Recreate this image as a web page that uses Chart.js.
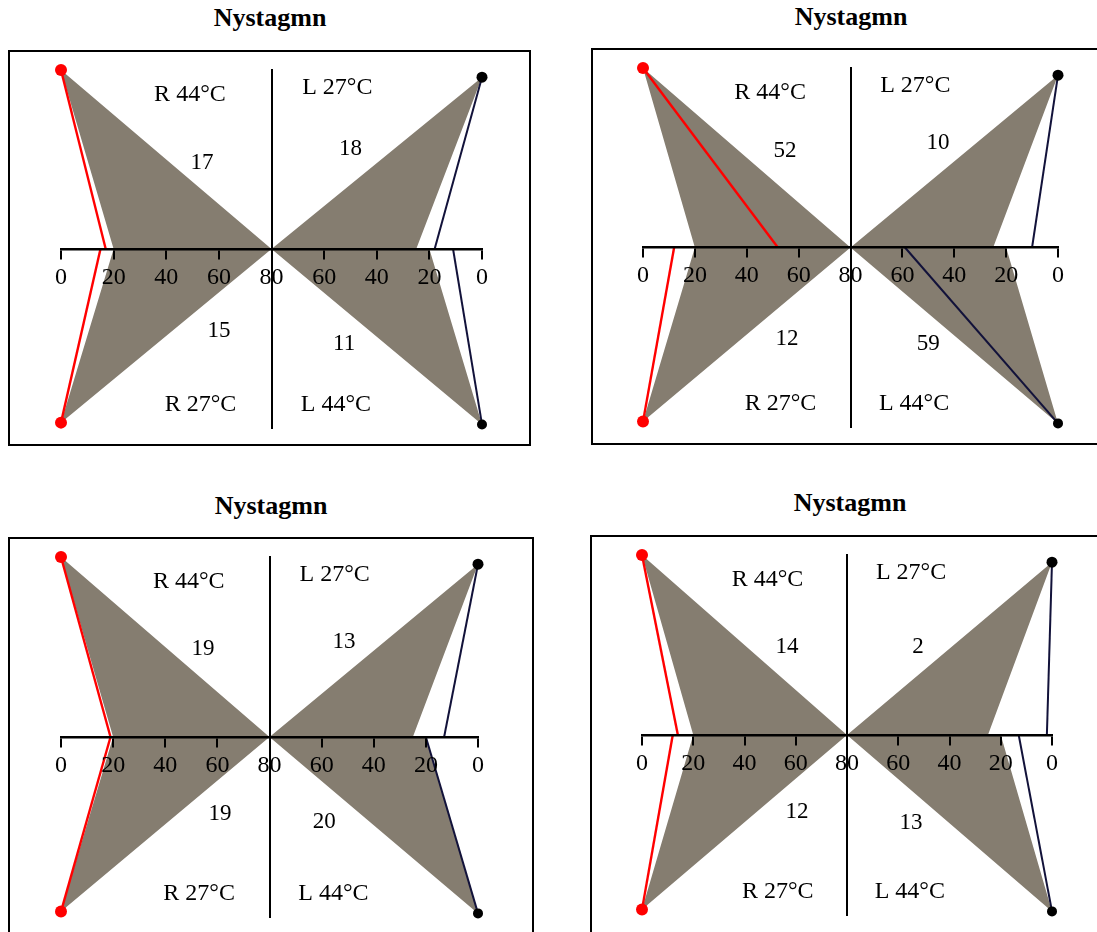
<!DOCTYPE html>
<html>
<head>
<meta charset="utf-8">
<script src="https://cdn.jsdelivr.net/npm/chart.js@4.4.0/dist/chart.umd.min.js"></script>
<style>
  html, body { margin: 0; padding: 0; }
  body { width: 1097px; height: 932px; background: #fff; position: relative; overflow: hidden;
         font-family: 'Liberation Serif', 'Times New Roman', serif; }
  .title { position: absolute; font-weight: bold; font-size: 26px; line-height: 26px;
           transform: translateX(-50%); white-space: nowrap; color: #000; }
  .box { position: absolute; border: 2px solid #000; box-sizing: border-box; }
  canvas { position: absolute; }
</style>
</head>
<body>
<script>
// Butterfly charts of caloric nystagmus (slow-phase velocity, deg/s)
const panelTitles   = ['Nystagmn', 'Nystagmn', 'Nystagmn', 'Nystagmn'];
const conditions    = ['R 44°C', 'L 27°C', 'R 27°C', 'L 44°C'];
const nystagmusR44  = [17, 52, 19, 14];
const nystagmusL27  = [18, 10, 13, 2];
const nystagmusR27  = [15, 12, 19, 12];
const nystagmusL44  = [11, 59, 20, 13];
// limits of the normal (shaded) range on the axis: R44, L27, R27, L44
const normalLimits  = [20, 25, 20, 20];
const tickLabels    = ['0', '20', '40', '60', '80', '60', '40', '20', '0'];
const axisMax = 80;   // each half of the axis runs 0..80, mirrored about the centre

// page layout of the four panels
const panelLayout = [
  { titleX: 270, titleY: 5,   box: [8, 50, 523, 396],   area: [61, 482, 70, 428] },
  { titleX: 851, titleY: 4,   box: [591, 48, 515, 397], area: [643, 1058, 68, 427] },
  { titleX: 271, titleY: 493, box: [8, 537, 526, 410],  area: [61, 478, 557, 917] },
  { titleX: 850, titleY: 490, box: [590, 535, 516, 410], area: [642, 1052, 555, 915] }
];
// apex heights of the four wings (top-left, top-right, bottom-left, bottom-right)
const apex = { rt: 1, lt: 0.96, rb: -0.97, lb: -0.98 };
// text anchor points in axis units
const conditionPos = [[49, 0.86], [105, 0.9], [53, -0.87], [104.5, -0.87]];
const valuePos = [
  [[53.6, 0.48], [110, 0.56], [60, -0.46], [107.6, -0.53]],
  [[54.7, 0.54], [113.7, 0.58], [55.5, -0.51], [110, -0.54]],
  [[54.5, 0.49], [108.6, 0.53], [61, -0.43], [101, -0.47]],
  [[56.6, 0.49], [107.7, 0.49], [60.5, -0.43], [105, -0.49]]
];

const SERIF = "'Liberation Serif', 'Times New Roman', serif";
const SHADE = '#857d70';
const RED = '#ff0000';
const NAVY = '#12123a';
const mirror = v => 2 * axisMax - v;

function textPlugin(p) {
  return {
    id: 'quadrantText' + p,
    afterDraw(chart) {
      const { ctx, scales: { x, y } } = chart;
      ctx.save();
      ctx.fillStyle = '#000';
      ctx.textAlign = 'center';
      ctx.textBaseline = 'middle';
      ctx.font = '24px ' + SERIF;
      conditions.forEach((c, i) => {
        ctx.fillText(c, x.getPixelForValue(conditionPos[i][0]), y.getPixelForValue(conditionPos[i][1]));
      });
      ctx.font = '23px ' + SERIF;
      const vals = [nystagmusR44[p], nystagmusL27[p], nystagmusR27[p], nystagmusL44[p]];
      vals.forEach((v, i) => {
        const pos = valuePos[p][i];
        ctx.fillText(String(v), x.getPixelForValue(pos[0]), y.getPixelForValue(pos[1]));
      });
      ctx.restore();
    }
  };
}

panelLayout.forEach((L, p) => {
  const t = document.createElement('div');
  t.className = 'title';
  t.textContent = panelTitles[p];
  t.style.left = L.titleX + 'px';
  t.style.top = L.titleY + 'px';
  document.body.appendChild(t);

  const [bx, by, bw, bh] = L.box;
  const box = document.createElement('div');
  box.className = 'box';
  Object.assign(box.style, { left: bx + 'px', top: by + 'px', width: bw + 'px', height: bh + 'px' });
  document.body.appendChild(box);

  const cv = document.createElement('canvas');
  cv.width = bw; cv.height = bh;
  Object.assign(cv.style, { left: bx + 'px', top: by + 'px', width: bw + 'px', height: bh + 'px' });
  document.body.appendChild(cv);

  const [al, ar, at, ab] = L.area;
  const lineDs = (data, color, width, dot) => ({
    data, showLine: true, borderColor: color, borderWidth: width, tension: 0,
    pointRadius: [dot, 0], pointBackgroundColor: color === RED ? RED : '#000',
    pointBorderWidth: 0, pointHoverRadius: [dot, 0], fill: false, clip: false, order: 1
  });
  const wing = data => ({
    data, showLine: true, fill: 'shape', backgroundColor: SHADE, borderColor: SHADE, borderWidth: 0,
    pointRadius: 0, tension: 0, clip: false, order: 2
  });

  new Chart(cv, {
    type: 'scatter',
    data: {
      datasets: [
        lineDs([{ x: 0, y: apex.rt }, { x: nystagmusR44[p], y: 0 }], RED, 2.4, 6),
        lineDs([{ x: 0, y: apex.rb }, { x: nystagmusR27[p], y: 0 }], RED, 2.4, 6),
        lineDs([{ x: mirror(0), y: apex.lt }, { x: mirror(nystagmusL27[p]), y: 0 }], NAVY, 2, 5.5),
        lineDs([{ x: mirror(0), y: apex.lb }, { x: mirror(nystagmusL44[p]), y: 0 }], NAVY, 2, 5),
        wing([{ x: 0, y: apex.rt }, { x: normalLimits[0], y: 0 }, { x: normalLimits[2], y: 0 },
              { x: 0, y: apex.rb }, { x: axisMax, y: 0 }]),
        wing([{ x: mirror(0), y: apex.lt }, { x: mirror(normalLimits[1]), y: 0 },
              { x: mirror(normalLimits[3]), y: 0 }, { x: mirror(0), y: apex.lb }, { x: axisMax, y: 0 }])
      ]
    },
    options: {
      responsive: false,
      animation: false,
      events: [],
      layout: { padding: { left: al - bx, right: bx + bw - ar, top: at - by, bottom: by + bh - ab } },
      plugins: { legend: { display: false }, tooltip: { enabled: false } },
      scales: {
        x: {
          type: 'linear', min: 0, max: 2 * axisMax, position: { y: 0 },
          ticks: {
            stepSize: 20, autoSkip: false, maxRotation: 0, color: '#000', padding: 5, z: 2,
            font: { family: SERIF, size: 24 },
            callback: (v, i) => tickLabels[i]
          },
          grid: { drawOnChartArea: false, drawTicks: true, tickLength: 9, color: '#000', lineWidth: 2, z: 2 },
          border: { display: true, color: '#000', width: 2.5, z: 2 }
        },
        y: {
          type: 'linear', min: -1, max: 1, position: { x: axisMax },
          ticks: { display: false },
          grid: { display: false },
          border: { display: true, color: '#000', width: 2, z: 1 }
        }
      }
    },
    plugins: [textPlugin(p)]
  });
});
</script>
</body>
</html>
